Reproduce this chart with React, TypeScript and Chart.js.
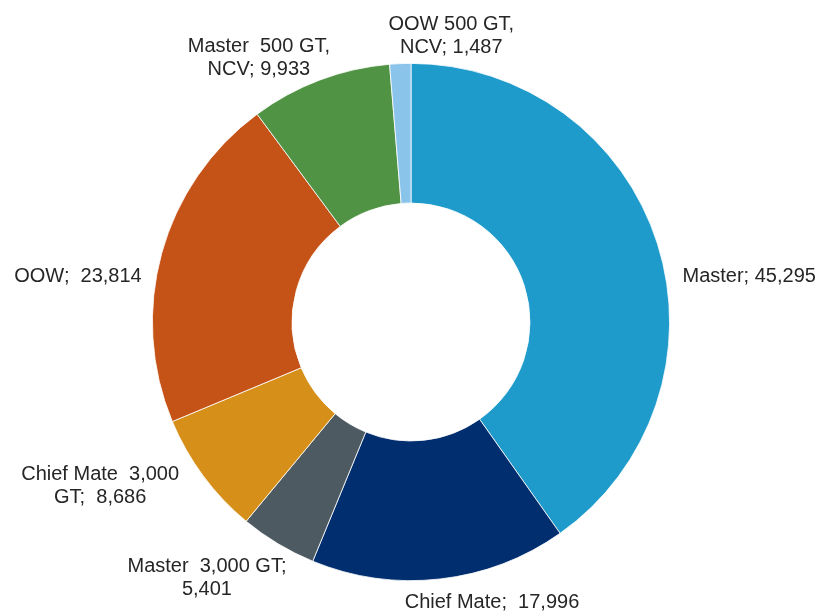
import React, { useEffect, useRef } from "react";
import { Chart, registerables } from "chart.js";

Chart.register(...registerables);

const categories = [
  "Master",
  "Chief Mate",
  "Master 3,000 GT",
  "Chief Mate 3,000 GT",
  "OOW",
  "Master 500 GT, NCV",
  "OOW 500 GT, NCV",
];
const values = [45295, 17996, 5401, 8686, 23814, 9933, 1487];
const labelLines = [
  ["Master; 45,295"],
  ["Chief Mate;  17,996"],
  ["Master  3,000 GT;", "5,401"],
  ["Chief Mate  3,000", "GT;  8,686"],
  ["OOW;  23,814"],
  ["Master  500 GT,", "NCV; 9,933"],
  ["OOW 500 GT,", "NCV; 1,487"],
];
const colors = ["#1E9BCB", "#002E6E", "#4E5A61", "#D6901A", "#C55217", "#519344", "#8BC4EA"];

// label placement relative to each arc's outer mid-angle point
const labelAlign: CanvasTextAlign[] = ["left", "center", "center", "center", "right", "center", "center"];
const labelNudge = [
  [25, 38],
  [52, 29],
  [-71, 28],
  [-103, 4],
  [-20, 29],
  [-61, -28],
  [51, -34],
];

const labelPlugin = {
  id: "outerLabels",
  afterDatasetsDraw(chart: any) {
    const ctx = chart.ctx;
    const meta = chart.getDatasetMeta(0);
    ctx.save();
    ctx.font = '20px "Liberation Sans", Arial, sans-serif';
    ctx.fillStyle = "#262626";
    ctx.textBaseline = "alphabetic";
    meta.data.forEach((arc: any, i: number) => {
      const p = arc.getProps(["x", "y", "startAngle", "endAngle", "outerRadius"], true);
      const mid = (p.startAngle + p.endAngle) / 2;
      const ax = p.x + Math.cos(mid) * p.outerRadius;
      const ay = p.y + Math.sin(mid) * p.outerRadius;
      const x = ax + labelNudge[i][0];
      const y = ay + labelNudge[i][1];
      ctx.textAlign = labelAlign[i];
      labelLines[i].forEach((line, j) => {
        ctx.fillText(line, x, y + j * 23);
      });
    });
    ctx.restore();
  },
};

export default function App() {
  const ref = useRef<HTMLCanvasElement | null>(null);
  useEffect(() => {
    document.body.style.margin = "0";
    const chart = new Chart(ref.current as HTMLCanvasElement, {
      type: "doughnut",
      data: {
        labels: categories,
        datasets: [
          {
            data: values,
            backgroundColor: colors,
            borderColor: "#ffffff",
            borderWidth: 0.8,
          },
        ],
      },
      options: {
        responsive: false,
        animation: false,
        cutout: "46%",
        layout: { padding: { left: 152, right: 153, top: 63, bottom: 33 } },
        plugins: {
          legend: { display: false },
          tooltip: { enabled: false },
        },
      },
      plugins: [labelPlugin],
    });
    return () => chart.destroy();
  }, []);
  return (
    <div style={{ width: 823, height: 614, background: "#fff" }}>
      <canvas ref={ref} width={823} height={614} style={{ display: "block" }} />
    </div>
  );
}
